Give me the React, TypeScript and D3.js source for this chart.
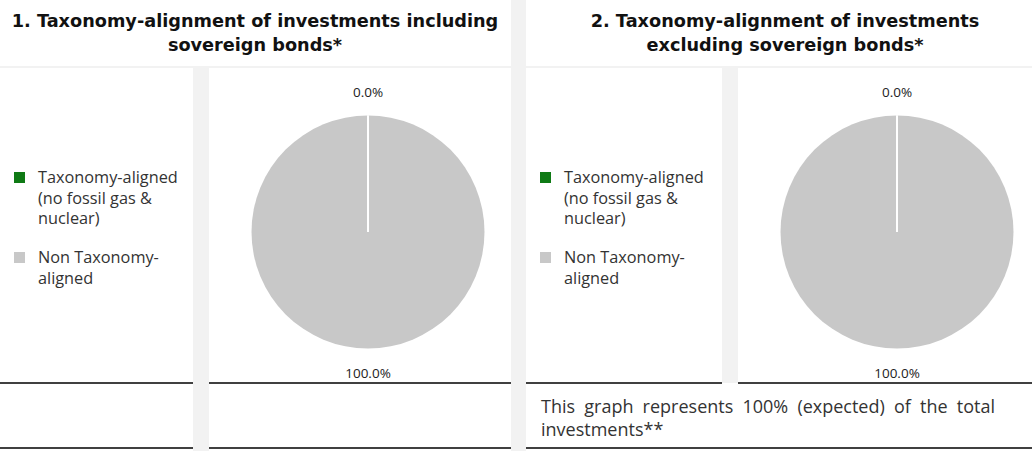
import { useEffect, useRef } from 'react'
import * as d3 from 'd3'

const categories = ['Taxonomy-aligned (no fossil gas & nuclear)', 'Non Taxonomy-aligned']
const legendLines = [['Taxonomy-aligned', '(no fossil gas &', 'nuclear)'], ['Non Taxonomy-', 'aligned']]
const colors = ['#0f7a15', '#c8c8c8']
const valuesIncl = [0, 100]
const valuesExcl = [0, 100]
const titles = [
  ['1. Taxonomy-alignment of investments including', 'sovereign bonds*'],
  ['2. Taxonomy-alignment of investments', 'excluding sovereign bonds*'],
]
const footnote = ['This graph represents 100% (expected) of the total', 'investments**']

const W = 1032
const H = 451
const FONT = '"Open Sans", "DejaVu Sans", sans-serif'
const TITLE_FONT = '"DejaVu Sans", sans-serif'

export default function App() {
  const ref = useRef<SVGSVGElement | null>(null)

  useEffect(() => {
    const svg = d3.select(ref.current)
    svg.selectAll('*').remove()
    svg.attr('width', W).attr('height', H).style('font-family', FONT)

    const grey = '#f2f2f2'
    const panels = [
      { x0: 0, legR: 193, pieL: 209, x1: 511, tc: 255, vals: valuesIncl, cx: 368 },
      { x0: 526, legR: 722, pieL: 738, x1: 1032, tc: 785, vals: valuesExcl, cx: 897 },
    ]

    // background separators
    svg.append('rect').attr('x', 0).attr('y', 66).attr('width', W).attr('height', 2).attr('fill', grey)
    svg.append('rect').attr('x', 511).attr('y', 0).attr('width', 15).attr('height', H).attr('fill', grey)
    svg.append('rect').attr('x', 193).attr('y', 68).attr('width', 16).attr('height', H - 68).attr('fill', grey)
    svg.append('rect').attr('x', 722).attr('y', 68).attr('width', 16).attr('height', 383 - 68).attr('fill', grey)

    const pie = d3.pie<number>().sort(null).value((d) => d)
    const r = 116.5

    panels.forEach((p, pi) => {
      const g = svg.append('g')

      titles[pi].forEach((t, i) => {
        g.append('text')
          .attr('x', p.tc)
          .attr('y', 27 + i * 24)
          .attr('text-anchor', 'middle')
          .attr('font-family', TITLE_FONT)
          .attr('font-weight', 700)
          .attr('font-size', 17.7)
          .attr('fill', '#111')
          .text(t)
      })

      // legend
      const legY = [172, 252]
      categories.forEach((c, ci) => {
        const lg = g.append('g').attr('transform', `translate(${p.x0 + 14},${legY[ci]})`)
        lg.append('rect').attr('width', 11).attr('height', 11).attr('fill', colors[ci])
          .append('title').text(c)
        legendLines[ci].forEach((line, li) => {
          lg.append('text')
            .attr('x', 24)
            .attr('y', 11 + li * 20.5)
            .attr('font-size', 16.3)
            .attr('fill', '#333')
            .text(line)
        })
      })

      // pie
      const cy = 232
      const arcs = pie(p.vals)
      const arc = d3.arc<d3.PieArcDatum<number>>().innerRadius(0).outerRadius(r)
      const labelArc = d3.arc<d3.PieArcDatum<number>>().innerRadius(r + 24).outerRadius(r + 24)
      const pg = g.append('g').attr('transform', `translate(${p.cx},${cy})`)
      pg.selectAll('path')
        .data(arcs)
        .enter()
        .append('path')
        .attr('d', arc)
        .attr('fill', (_d, i) => colors[i])
      // slice borders
      pg.selectAll('line.sep')
        .data(arcs)
        .enter()
        .append('line')
        .attr('class', 'sep')
        .attr('x1', 0)
        .attr('y1', 0)
        .attr('x2', (d) => d3.pointRadial(d.startAngle, r)[0])
        .attr('y2', (d) => d3.pointRadial(d.startAngle, r)[1])
        .attr('stroke', '#fff')
        .attr('stroke-width', 2)
      pg.selectAll('text')
        .data(arcs)
        .enter()
        .append('text')
        .attr('x', (d) => labelArc.centroid(d)[0])
        .attr('y', (d) => labelArc.centroid(d)[1] + 2)
        .attr('text-anchor', 'middle')
        .attr('dominant-baseline', 'middle')
        .attr('font-size', 13.5)
        .attr('fill', '#222')
        .text((d) => d.data.toFixed(1) + '%')

      // table rules
      const segs = [[p.x0, p.legR], [p.pieL, p.x1]]
      segs.forEach(([a, b]) => {
        g.append('line').attr('x1', a).attr('x2', b).attr('y1', 383).attr('y2', 383)
          .attr('stroke', '#000').attr('stroke-width', 1.5)
      })
      if (pi === 0) {
        segs.forEach(([a, b]) => {
          g.append('line').attr('x1', a).attr('x2', b).attr('y1', 448).attr('y2', 448)
            .attr('stroke', '#000').attr('stroke-width', 1.5)
        })
      } else {
        g.append('line').attr('x1', p.x0).attr('x2', p.x1).attr('y1', 448).attr('y2', 448)
          .attr('stroke', '#000').attr('stroke-width', 1.5)
        footnote.forEach((t, i) => {
          g.append('text')
            .attr('x', p.x0 + 15)
            .attr('y', 413 + i * 23)
            .attr('font-size', 18)
            .attr('fill', '#333')
            .attr('word-spacing', 4.5)
            .text(t)
        })
      }
    })
  }, [])

  return (
    <div style={{ position: 'absolute', left: 0, top: 0, background: '#fff' }}>
      <svg ref={ref} style={{ display: 'block' }} />
    </div>
  )
}
